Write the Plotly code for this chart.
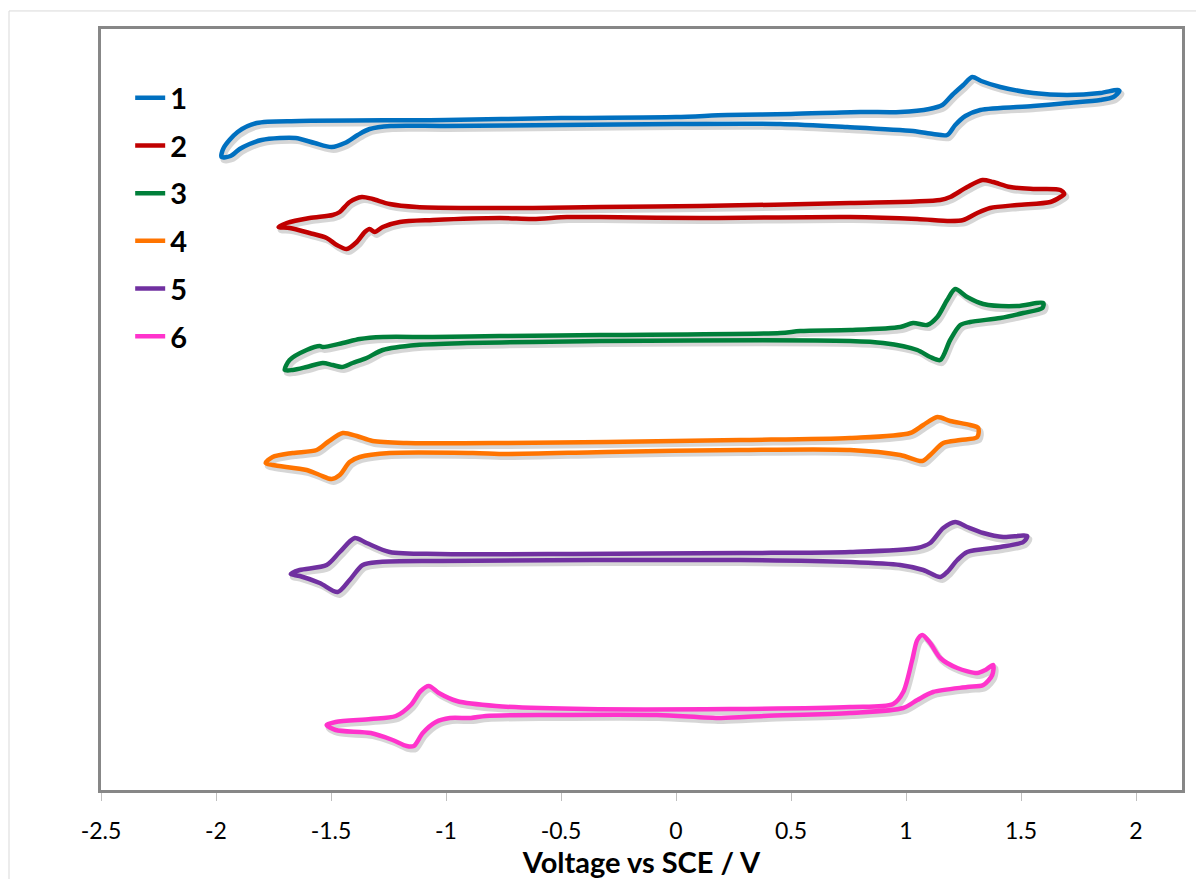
import plotly.graph_objects as go

# ---------------- data ----------------
# Voltage (V vs SCE) and stacked current (arbitrary units, curves offset vertically)
v1 = [-1.976, -1.967, -1.906, -1.823, -1.636, -1.001, -0.500, 0.000, 0.222, 0.500, 0.801, 0.975,
      1.101, 1.158, 1.201, 1.249, 1.288, 1.327, 1.410, 1.553, 1.701, 1.845, 1.919, 1.928,
      1.902, 1.845, 1.701, 1.553, 1.323, 1.258, 1.214, 1.179, 1.118, 1.031, 0.744, 0.453,
      0.000, -0.500, -1.001, -1.240, -1.332, -1.384, -1.440, -1.497, -1.571, -1.654, -1.723,
      -1.802, -1.854, -1.897, -1.937, -1.976]
i1 = [633, 642, 658, 667, 669, 670, 672, 673, 675, 676, 678, 678,
      681, 685, 695, 705, 713, 709, 703, 697, 695, 697, 700, 699,
      693, 690, 687, 684, 680, 674, 665, 655, 656, 659, 663, 666,
      666, 665, 664, 664, 661, 655, 647, 643, 647, 652, 652,
      650, 646, 641, 634, 633]

v2 = [-1.728, -1.693, -1.593, -1.493, -1.462, -1.419, -1.366, -1.319, -1.245, -1.127, -0.909, -0.622,
      -0.331, 0.104, 0.757, 1.149, 1.192, 1.266, 1.332, 1.379, 1.453, 1.553, 1.671, 1.688,
      1.671, 1.628, 1.484, 1.366, 1.310, 1.249, 1.192, 1.049, 0.757, 0.104,
      -0.331, -0.474, -0.622, -0.766, -1.057, -1.201, -1.275, -1.310, -1.332, -1.353,
      -1.388, -1.432, -1.475, -1.519, -1.593, -1.680, -1.728]
i2 = [563, 567, 572, 575, 578, 588, 593, 591, 586, 583, 582, 582,
      583, 584, 587, 590, 593, 603, 610, 608, 603, 601, 600, 596,
      593, 588, 585, 582, 577, 570, 569, 571, 573, 572,
      573, 573, 571, 572, 570, 568, 563, 558, 561, 558,
      548, 541, 545, 552, 557, 562, 563]

v3 = [-1.701, -1.680, -1.606, -1.549, -1.536, -1.449, -1.375, -1.275, -1.057, -0.766, -0.331, 0.453,
      0.540, 0.757, 0.975, 1.031, 1.092, 1.136, 1.179, 1.214, 1.266, 1.336, 1.484, 1.597,
      1.593, 1.510, 1.410, 1.279, 1.236, 1.192, 1.149, 1.105, 1.049, 0.901,
      0.757, -0.331, -0.622, -0.909, -1.127, -1.275, -1.345, -1.406, -1.453, -1.493,
      -1.536, -1.606, -1.667, -1.701]
i3 = [420, 430, 440, 444, 443, 447, 451, 453, 453, 454, 455, 457,
      459, 460, 463, 467, 465, 473, 490, 501, 493, 486, 484, 487,
      482, 477, 472, 468, 465, 450, 430, 433, 440, 447,
      449, 449, 448, 447, 445, 440, 432, 427, 423, 425,
      427, 423, 420, 420]

v4 = [-1.784, -1.754, -1.667, -1.562, -1.514, -1.449, -1.388, -1.319, -1.171, -0.735, -0.300, 0.279,
      0.757, 1.018, 1.075, 1.136, 1.192, 1.279, 1.314,
      1.310, 1.236, 1.162, 1.105, 1.071, 0.975, 0.757, 0.279, -0.300, -0.735,
      -0.883, -1.245, -1.375, -1.419, -1.462, -1.497, -1.549, -1.606, -1.754, -1.784]
i4 = [327, 333, 337, 340, 348, 357, 354, 349, 347, 347, 348, 350,
      352, 357, 365, 373, 369, 365, 362,
      353, 350, 347, 335, 329, 335, 340, 340, 338, 336,
      337, 337, 333, 328, 315, 311, 315, 320, 325, 327]

v5 = [-1.675, -1.636, -1.519, -1.462, -1.397, -1.345, -1.245, -1.027, -0.448, 0.279, 0.757, 1.049,
      1.105, 1.162, 1.214, 1.266, 1.336, 1.423, 1.527,
      1.510, 1.410, 1.266, 1.223, 1.179, 1.149, 1.075, 0.975, 0.757, 0.279,
      -1.027, -1.288, -1.362, -1.419, -1.471, -1.549, -1.636, -1.675]
i5 = [216, 220, 225, 238, 252, 247, 238, 236, 236, 237, 238, 242,
      247, 262, 268, 263, 257, 253, 254,
      248, 243, 238, 230, 218, 213, 220, 225, 228, 230,
      229, 228, 225, 210, 198, 207, 214, 216]

v6 = [-1.519, -1.480, -1.327, -1.218, -1.153, -1.110, -1.075, -1.031, -0.953, -0.783, -0.392, 0.231,
      0.757, 0.944, 0.988, 1.027, 1.049, 1.071, 1.105, 1.149, 1.223, 1.310, 1.345, 1.379,
      1.375, 1.336, 1.266, 1.118, 1.049, 0.988, 0.757, 0.383, 0.196, -0.083,
      -0.548, -0.827, -0.892, -0.983, -1.044, -1.101, -1.140, -1.171, -1.232, -1.327,
      -1.480, -1.519]
i6 = [65, 68, 71, 74, 85, 99, 104, 97, 89, 84, 81, 81,
      83, 86, 98, 130, 150, 155, 147, 132, 122, 117, 120, 125,
      115, 105, 103, 98, 90, 82, 77, 74, 72, 75,
      75, 74, 72, 72, 68, 57, 44, 44, 50, 57,
      60, 65]

series_names = ["1", "2", "3", "4", "5", "6"]
series_colors = ["#0070C0", "#C00000", "#007F3A", "#FF7400", "#7030A0", "#FF33CC"]

tick_vals = [-2.5, -2, -1.5, -1, -0.5, 0, 0.5, 1, 1.5, 2]
tick_text = ["-2.5", "-2", "-1.5", "-1", "-0.5", "0", "0.5", "1", "1.5", "2"]

x_title = "Voltage vs SCE / V"

# ---------------- figure ----------------
volts = [v1, v2, v3, v4, v5, v6]
currents = [i1, i2, i3, i4, i5, i6]

FONT = "Lato, 'Open Sans', Arial, sans-serif"
SHADOW_DX = 0.009   # small drop-shadow offset (style)
SHADOW_DY = -3

fig = go.Figure()

# soft drop shadows
for vx, iy in zip(volts, currents):
    fig.add_trace(go.Scatter(
        x=[v + SHADOW_DX for v in vx], y=[c + SHADOW_DY for c in iy],
        mode="lines", line=dict(color="rgba(0,0,0,0.16)", width=6, shape="spline", smoothing=0.8),
        hoverinfo="skip", showlegend=False))

for name, col, vx, iy in zip(series_names, series_colors, volts, currents):
    fig.add_trace(go.Scatter(
        x=vx, y=iy, name=name, legendgroup=name,
        mode="lines", line=dict(color=col, width=4.5, shape="spline", smoothing=0.8)))

# the page body adds an 8px offset, so the figure is 8px smaller and margins shifted
fig.update_layout(
    width=1196, height=871,
    margin=dict(l=93, r=22, t=21, b=89),
    paper_bgcolor="white", plot_bgcolor="white",
    font=dict(family=FONT, color="black"),
    showlegend=True,
    legend=dict(
        x=0.027, y=0.943, xanchor="left", yanchor="top",
        font=dict(family=FONT, size=29, color="black", weight="bold"),
        bgcolor="rgba(0,0,0,0)", tracegroupgap=7, traceorder="grouped",
    ),
    xaxis=dict(
        range=[-2.5, 2.2], tickvals=tick_vals, ticktext=tick_text,
        ticks="outside", ticklen=8, tickwidth=1, tickcolor="#BFBFBF",
        showline=True, linecolor="#878787", linewidth=3, mirror=True,
        showgrid=False, zeroline=False,
        tickfont=dict(family=FONT, size=23, color="black"),
        ticklabelstandoff=10,
        title=dict(text=x_title, standoff=9,
                   font=dict(family=FONT, size=29, color="black", weight="bold")),
        automargin=False,
    ),
    yaxis=dict(
        range=[0, 761], showticklabels=False, ticks="",
        showline=True, linecolor="#878787", linewidth=3, mirror=True,
        showgrid=False, zeroline=False, automargin=False,
    ),
    shapes=[dict(type="rect", xref="paper", yref="paper",
                 x0=-0.0851, x1=1.5, y0=-0.5, y1=1.0237,
                 line=dict(color="#D9D9D9", width=1), fillcolor="rgba(0,0,0,0)", layer="below")],
)

fig.write_html("out.html")
